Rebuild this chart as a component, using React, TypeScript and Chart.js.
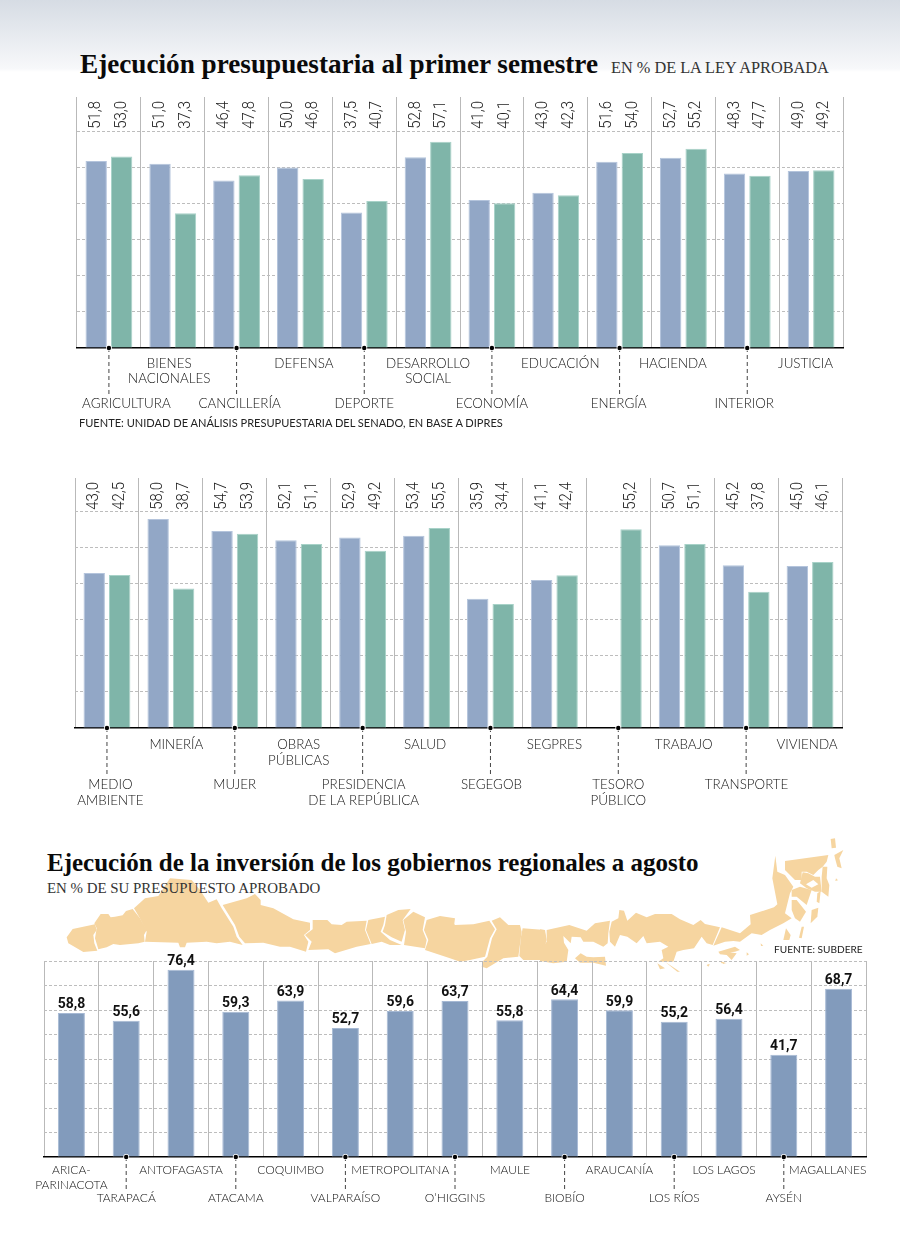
import React, { useEffect, useRef } from "react";
import { Chart, registerables } from "chart.js";

Chart.register(...registerables);

const ministriesA = [["AGRICULTURA"], ["BIENES", "NACIONALES"], ["CANCILLERÍA"], ["DEFENSA"], ["DEPORTE"], ["DESARROLLO", "SOCIAL"], ["ECONOMÍA"], ["EDUCACIÓN"], ["ENERGÍA"], ["HACIENDA"], ["INTERIOR"], ["JUSTICIA"]];
const blueA = [51.8, 51.0, 46.4, 50.0, 37.5, 52.8, 41.0, 43.0, 51.6, 52.7, 48.3, 49.0];
const greenA = [53.0, 37.3, 47.8, 46.8, 40.7, 57.1, 40.1, 42.3, 54.0, 55.2, 47.7, 49.2];

const ministriesB = [["MEDIO", "AMBIENTE"], ["MINERÍA"], ["MUJER"], ["OBRAS", "PÚBLICAS"], ["PRESIDENCIA", "DE LA REPÚBLICA"], ["SALUD"], ["SEGEGOB"], ["SEGPRES"], ["TESORO", "PÚBLICO"], ["TRABAJO"], ["TRANSPORTE"], ["VIVIENDA"]];
const blueB = [43.0, 58.0, 54.7, 52.1, 52.9, 53.4, 35.9, 41.1, null, 50.7, 45.2, 45.0];
const greenB = [42.5, 38.7, 53.9, 51.1, 49.2, 55.5, 34.4, 42.4, 55.2, 51.1, 37.8, 46.1];

const regions = [["ARICA-", "PARINACOTA"], ["TARAPACÁ"], ["ANTOFAGASTA"], ["ATACAMA"], ["COQUIMBO"], ["VALPARAÍSO"], ["METROPOLITANA"], ["O’HIGGINS"], ["MAULE"], ["BIOBÍO"], ["ARAUCANÍA"], ["LOS RÍOS"], ["LOS LAGOS"], ["AYSÉN"], ["MAGALLANES"]];
const regionValues = [58.8, 55.6, 76.4, 59.3, 63.9, 52.7, 59.6, 63.7, 55.8, 64.4, 59.9, 55.2, 56.4, 41.7, 68.7];

const labelNudgeA = [17.5, -3.5, 3, 3.5, 0, 0, 0, 4.5, -1, -10.5, -3, -5.5];
const labelNudgeB = [3.5, 5.5, 0, 0, 1, -1.5, 1, 0, 0, 1.5, 0.5, -3];
const labelNudgeC = [0, 0, 0, 0, 0, 0, 0, 0, 0, 0, 0, 0, -5, 0, -11];

const fmt = (v: number) => v.toFixed(1).replace(".", ",");
const LABEL_FONT = '"Lato"';

const mapWest = [
  "200,322 218,297 285,283 290,300 280,315 283,340 292,362 250,366 205,340",
  "283,280 302,252 325,252 332,262 345,260 368,256 378,243 398,237 420,265 440,300 432,315 434,335 415,340 360,345 340,342 320,352 295,358 285,325 290,295",
  "402,235 435,205 475,198 510,145 575,150 600,180 625,218 650,208 665,235 700,290 710,320 728,345 690,335 650,340 620,335 560,338 555,352 540,352 535,338 435,335 440,305 418,262",
  "668,225 740,205 765,192 782,210 782,225 820,235 880,268 930,278 930,300 912,315 925,335 918,365 870,350 840,350 790,338 735,340 718,320 705,285",
  "938,270 982,270 995,283 1025,285 1040,275 1100,272 1095,300 1112,342 1070,350 1005,370 985,358 925,360 935,335 915,315 938,298",
  "1105,270 1155,260 1150,285 1142,305 1170,330 1205,345 1170,345 1145,335 1115,342 1098,300",
  "1160,255 1195,240 1232,237 1208,270 1215,300 1205,335 1175,322 1148,305 1155,285",
  "1240,245 1275,262 1268,300 1280,330 1275,355 1212,345 1218,305 1210,270",
  "1280,270 1320,258 1365,265 1350,385 1275,360 1285,330 1272,300",
];
const mapMid = [
  "0,268 15,285 70,283 118,272 135,298 120,325 105,380 60,390 30,395 0,385",
  "125,272 150,262 175,285 210,285 215,305 205,380 160,385 110,415 95,410 100,392 112,380 126,325 140,298",
  "218,295 285,300 290,330 270,390 220,390 208,378 212,325",
];
const mapCoast = [
  "0,88 14,90 18,125 0,145",
  "20,90 88,75 140,92 165,70 210,62 205,100 203,130 190,140 160,125 130,125 122,112 95,110 92,130 70,108 72,128 85,150 80,185 40,190 0,183 0,150 20,125",
  "105,175 122,160 140,170 160,172 195,170 198,197 160,188 120,188",
  "215,65 235,55 238,30 252,32 262,62 288,38 320,52 345,42 395,42 420,58 460,75 482,60 495,72 540,82 518,135 500,130 485,110 462,145 430,150 410,155 400,185 355,185 370,175 365,150 385,140 360,125 320,130 310,108 290,130 262,110 240,105 225,140 210,125 208,95",
  "352,190 375,205 360,208",
  "375,185 420,215 412,215",
  "500,195 508,192 505,198",
  "545,185 555,190 550,192",
];
const mapSouth = [
  "65,277 120,295 152,268 150,240 222,217 232,208 217,130 226,62 232,110 255,120 280,155 270,175 255,235 275,250 250,265 210,285 185,300 155,295 120,320 100,318 75,320 40,332",
  "255,78 385,60 380,80 368,95 355,105 340,120 320,110 305,110 305,135 285,135 270,120 255,105",
  "368,95 382,95 380,130 388,150 385,185 365,170 365,125",
  "308,112 325,115 345,125 360,125 365,170 345,170 320,160 300,145",
  "275,165 300,155 335,165 320,210 290,185 275,185",
  "275,195 290,195 318,230 300,260 285,250 275,225",
  "335,225 355,218 352,245 332,265",
  "352,175 362,168 358,205 350,200",
  "392,12 405,10 408,38 395,40",
  "403,60 430,45 418,70 425,100 412,95 405,70",
  "408,130 414,136 406,138",
  "258,280 272,300 268,315 250,315",
  "305,275 312,275 305,310 297,308",
  "182,325 190,332 183,333",
  "140,352 147,358 140,362",
  "55,350 105,335 120,345 105,350 90,352 110,355 95,375 80,360 60,358",
  "20,390 30,388 25,395",
  "60,378 80,385 65,385",
];
const mapHole = "318,148 340,135 355,148 335,158";

type Cfg = {
  top: number; height: number; padLeft: number; padRight: number; padTop: number;
  labels: string[][]; series: { data: (number | null)[]; color: string; border: string }[];
  yMax: number; categoryPct: number; barPct: number; upperH: number; lowerH: number;
  upperPad: number; lowerPad: number; lineH: number; leaderIsEven: boolean; leaderLen: number;
  labelStyle: "rotated" | "top"; xFontSize: number; nudge: number[];
};

const nudgeLabels = (cfg: Cfg) => ({
  id: "nudgeLabels",
  afterUpdate(chart: any) {
    ["x", "x2"].forEach((id) => {
      chart.scales[id].getLabelItems(chart.chartArea).forEach((item: any, i: number) => {
        item.options.translation[0] += cfg.nudge[i] || 0;
      });
    });
  },
});

const annotate = (cfg: Cfg) => ({
  id: "annotate",
  afterDatasetsDraw(chart: any) {
    const { ctx } = chart;
    const x = chart.scales.x, y = chart.scales.y;
    ctx.save();
    chart.data.datasets.forEach((ds: any, di: number) => {
      const meta = chart.getDatasetMeta(di);
      meta.data.forEach((el: any, i: number) => {
        const v = ds.data[i];
        if (v == null) return;
        ctx.save();
        if (cfg.labelStyle === "rotated") {
          ctx.translate(el.x, y.top + 4);
          ctx.rotate(-Math.PI / 2);
          ctx.scale(0.88, 1);
          ctx.font = `300 17px "Roboto"`;
          ctx.fillStyle = "#222";
          ctx.textAlign = "right";
          ctx.textBaseline = "middle";
          ctx.fillText(fmt(v), 0, 0);
        } else {
          ctx.font = `700 14px "Roboto"`;
          ctx.fillStyle = "#111";
          ctx.textAlign = "center";
          ctx.textBaseline = "middle";
          ctx.fillText(fmt(v), el.x, el.y - 8);
        }
        ctx.restore();
      });
    });
    cfg.labels.forEach((_, i) => {
      if ((i % 2 === 0) !== cfg.leaderIsEven) return;
      const px = x.getPixelForValue(i);
      ctx.strokeStyle = "#444";
      ctx.lineWidth = 1;
      ctx.setLineDash([4, 3]);
      ctx.beginPath();
      ctx.moveTo(px, y.bottom);
      ctx.lineTo(px, y.bottom + cfg.leaderLen);
      ctx.stroke();
      ctx.setLineDash([]);
      ctx.beginPath();
      ctx.arc(px, y.bottom, 3, 0, Math.PI * 2);
      ctx.fillStyle = "#fff";
      ctx.fill();
      ctx.beginPath();
      ctx.arc(px, y.bottom, 2.2, 0, Math.PI * 2);
      ctx.fillStyle = "#000";
      ctx.fill();
    });
    ctx.restore();
  },
});

function BarPanel({ cfg }: { cfg: Cfg }) {
  const ref = useRef<HTMLCanvasElement>(null);
  useEffect(() => {
    const isUpper = (i: number) => (i % 2 === 0) !== cfg.leaderIsEven;
    const upper = cfg.labels.map((l, i) => (isUpper(i) ? l : ""));
    const lower = cfg.labels.map((l, i) => (isUpper(i) ? "" : l));
    const font = { family: LABEL_FONT, size: cfg.xFontSize, weight: "300", lineHeight: cfg.lineH / cfg.xFontSize };
    const chart = new Chart(ref.current!, {
      type: "bar",
      data: {
        labels: upper as any,
        datasets: cfg.series.map((s) => ({
          data: s.data,
          backgroundColor: s.color,
          borderColor: s.border,
          borderWidth: { top: 1, left: 1, right: 1, bottom: 0 },
          categoryPercentage: cfg.categoryPct,
          barPercentage: cfg.barPct,
        })) as any,
      },
      options: {
        responsive: false,
        animation: false,
        layout: { padding: { left: cfg.padLeft, right: cfg.padRight, top: cfg.padTop, bottom: 0 } },
        plugins: { legend: { display: false }, tooltip: { enabled: false }, title: { display: false } },
        scales: {
          x: {
            type: "category",
            position: "bottom",
            offset: true,
            grid: { color: "#b9b9b9", lineWidth: 1, drawTicks: false },
            border: { display: true, color: "#000", width: 1.5 },
            ticks: { autoSkip: false, maxRotation: 0, minRotation: 0, padding: cfg.upperPad, color: "#111", font },
            afterFit: (s: any) => { s.height = cfg.upperH; },
          },
          x2: {
            type: "category",
            position: "bottom",
            offset: true,
            labels: lower,
            grid: { display: false, drawTicks: false },
            border: { display: false },
            ticks: { autoSkip: false, maxRotation: 0, minRotation: 0, padding: cfg.lowerPad, color: "#111", font },
            afterFit: (s: any) => { s.height = cfg.lowerH; },
          },
          y: {
            min: 0,
            max: cfg.yMax,
            grid: {
              color: (c: any) => (c.tick.value === 0 ? "rgba(0,0,0,0)" : "#bdbdbd"),
              lineWidth: 1,
              drawTicks: false,
            },
            border: { display: false, dash: [3, 2] },
            ticks: { display: false, stepSize: 10, includeBounds: false },
          },
        },
      } as any,
      plugins: [nudgeLabels(cfg), annotate(cfg)],
    });
    return () => chart.destroy();
  }, [cfg]);
  return (
    <canvas
      ref={ref}
      width={900}
      height={cfg.height}
      style={{ position: "absolute", left: 0, top: cfg.top, width: 900, height: cfg.height }}
    />
  );
}

const BLUE = { color: "#92A7C6", border: "#b4c4dc" };
const GREEN = { color: "#7FB5A9", border: "#a8d2c8" };

const panelA: Cfg = {
  top: 90, height: 330, padLeft: 77, padRight: 57, padTop: 7, labels: ministriesA,
  series: [{ data: blueA, ...BLUE }, { data: greenA, ...GREEN }],
  yMax: 69.5, categoryPct: 0.797, barPct: 0.84, upperH: 40, lowerH: 32, upperPad: 7.5, lowerPad: 8,
  lineH: 15.5, leaderIsEven: true, leaderLen: 47, labelStyle: "rotated", xFontSize: 13.4, nudge: labelNudgeA,
};
const panelB: Cfg = {
  top: 470, height: 346, padLeft: 75, padRight: 58, padTop: 8, labels: ministriesB,
  series: [{ data: blueB, ...BLUE }, { data: greenB, ...GREEN }],
  yMax: 69.4, categoryPct: 0.797, barPct: 0.84, upperH: 40, lowerH: 48, upperPad: 9, lowerPad: 9,
  lineH: 15.5, leaderIsEven: true, leaderLen: 47, labelStyle: "rotated", xFontSize: 13.4, nudge: labelNudgeB,
};
const panelC: Cfg = {
  top: 950, height: 270, padLeft: 44, padRight: 34, padTop: 11, labels: regions,
  series: [{ data: regionValues, color: "#829BBC", border: "#a6b9d4" }],
  yMax: 80, categoryPct: 1, barPct: 0.4927, upperH: 33.5, lowerH: 29.5, upperPad: 6.25, lowerPad: 0.25,
  lineH: 14.5, leaderIsEven: false, leaderLen: 33, labelStyle: "top", xFontSize: 12, nudge: labelNudgeC,
};

const abs = (left: number, top: number, extra: React.CSSProperties): React.CSSProperties => ({
  position: "absolute", left, top, whiteSpace: "nowrap", margin: 0, ...extra,
});
const titleStyle: React.CSSProperties = {
  fontFamily: '"Liberation Serif", serif', fontWeight: 700, lineHeight: "30px", color: "#0a0a0a",
};
const subStyle: React.CSSProperties = {
  fontFamily: '"Liberation Serif", serif', lineHeight: "20px", color: "#333",
};
const srcStyle: React.CSSProperties = {
  fontFamily: '"Lato", sans-serif', lineHeight: "14px", color: "#222",
};

export default function App() {
  return (
    <div style={{ position: "absolute", left: 0, top: 0, width: 900, height: 1258, overflow: "hidden", background: "#fff" }}>
      <div style={{ position: "absolute", left: 0, top: 0, width: 900, height: 72, background: "linear-gradient(#d6dce4, #f7f8fa 95%, #ffffff)" }} />
      <svg width={900} height={1258} style={{ position: "absolute", left: 0, top: 0 }}>
        <g transform="translate(0,830) scale(0.33333)" fill="#F6D5A0">
          {mapWest.map((p, i) => <polygon key={i} points={p} />)}
        </g>
        <g transform="translate(450,830) scale(0.33333)" fill="#F6D5A0">
          {mapMid.map((p, i) => <polygon key={i} points={p} />)}
        </g>
        <g transform="translate(540,900) scale(0.33333)" fill="#F6D5A0">
          {mapCoast.map((p, i) => <polygon key={i} points={p} />)}
        </g>
        <g transform="translate(700,835) scale(0.33333)" fill="#F6D5A0">
          {mapSouth.map((p, i) => <polygon key={i} points={p} />)}
          <polygon points={mapHole} fill="#fff" />
        </g>
      </svg>
      <BarPanel cfg={panelA} />
      <BarPanel cfg={panelB} />
      <BarPanel cfg={panelC} />
      <div style={abs(80, 49, { ...titleStyle, fontSize: 27.2 })}>Ejecución presupuestaria al primer semestre</div>
      <div style={abs(611, 58, { ...subStyle, fontSize: 16.3 })}>EN % DE LA LEY APROBADA</div>
      <div style={abs(79, 416, { ...srcStyle, fontSize: 11.05 })}>FUENTE: UNIDAD DE ANÁLISIS PRESUPUESTARIA DEL SENADO, EN BASE A DIPRES</div>
      <div style={abs(47, 848, { ...titleStyle, fontSize: 25 })}>Ejecución de la inversión de los gobiernos regionales a agosto</div>
      <div style={abs(47, 878, { ...subStyle, fontSize: 14.9 })}>EN % DE SU PRESUPUESTO APROBADO</div>
      <div style={abs(774, 942, { ...srcStyle, fontSize: 10.1 })}>FUENTE: SUBDERE</div>
    </div>
  );
}
